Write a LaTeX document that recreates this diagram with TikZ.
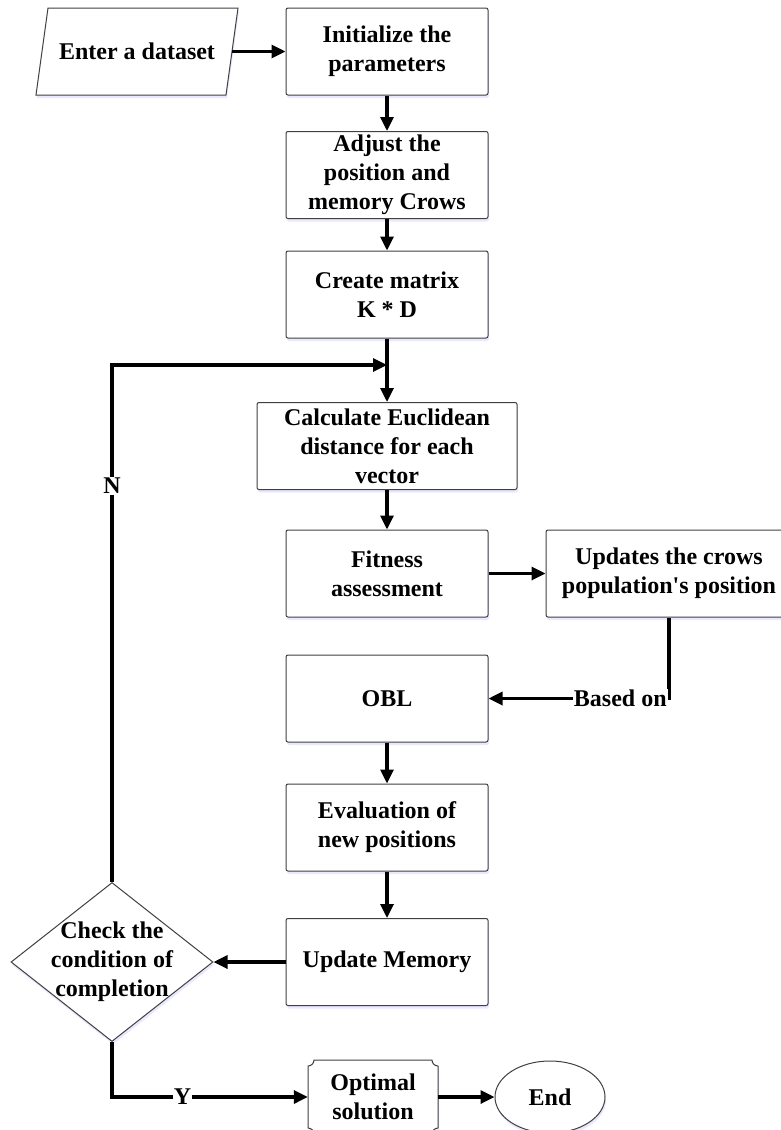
\documentclass[tikz,border=0pt]{standalone}
\usepackage{fontspec}
\setmainfont{Liberation Serif}
\usetikzlibrary{arrows.meta,shapes.geometric,shadows}

\tikzset{
  sombra/.style={drop shadow={shadow xshift=1pt,shadow yshift=-3pt,fill=blue!15,opacity=.6}},
  proc/.style={draw=gray!50!black, line width=1pt, rounded corners=2pt, fill=white,
    minimum width=202pt, minimum height=87pt, inner sep=2pt, align=center, sombra},
  decision/.style={diamond, draw=gray!50!black, line width=1pt, fill=white,
    minimum width=202pt, minimum height=159pt, inner sep=0pt, sombra},
  borde/.style={draw=gray!50!black, line width=1pt, fill=white, sombra},
  flecha/.style={line width=3.2pt, -{Triangle[length=14pt,width=13pt]}},
  etiq/.style={fill=white, inner sep=1pt},
}

\begin{document}
\begin{tikzpicture}[x=1pt, y=-1pt, font=\fontsize{24}{29}\selectfont\bfseries]
    \useasboundingbox (0,0) rectangle (781,1130);

    % Entrada de datos
    \draw[borde] (48,8) -- (238,8) -- (226,95) -- (36,95) -- cycle;
    \node[minimum width=190pt, minimum height=87pt] (inp) at (137,51.5) {Enter a dataset};

    % Cajas del proceso
    \node[proc] (init) at (387,51.5) {Initialize the\\parameters};
    \node[proc] (adj) at (387,175) {Adjust the\\position and\\memory Crows};
    \node[proc] (crear) at (387,294.5) {Create matrix\\K * D};
    \node[proc, minimum width=260pt] (calc) at (387,446) {Calculate Euclidean\\distance for each\\vector};
    \node[proc] (fit) at (387,573.5) {Fitness\\assessment};
    \node[proc, minimum width=246pt] (upd) at (669,573.5) {Updates the crows\\population\textquotesingle s position};
    \node[proc] (obl) at (387,698.5) {OBL};
    \node[proc] (eval) at (387,827.5) {Evaluation of\\new positions};
    \node[proc] (mem) at (387,962) {Update Memory};

    % Condicion de parada
    \node[decision] (chk) at (112,962) {};
    \node[align=center] (chktxt) at (chk.center) {Check the\\condition of\\completion};

    % Solucion y fin
    \draw[borde] (308,1066) .. controls (311.3,1066) and (314,1063.3) .. (314,1060)
        -- (432,1060) .. controls (432,1063.3) and (434.7,1066) .. (438,1066)
        -- (438,1128) .. controls (434.7,1128) and (432,1130.7) .. (432,1134)
        -- (314,1134) .. controls (314,1130.7) and (311.3,1128) .. (308,1128) -- cycle;
    \node[align=center, minimum width=130pt, minimum height=74pt] (opt) at (373,1097) {Optimal\\solution};
    \node[ellipse, borde, minimum width=110pt, minimum height=72pt] (fin) at (550,1097) {End};

    % Flechas
    \draw[flecha] (inp.east) -- (init.west);
    \draw[flecha] (init.south) -- (adj.north);
    \draw[flecha] (adj.south) -- (crear.north);
    \draw[flecha] (crear.south) -- (calc.north);
    \draw[flecha] (calc.south) -- (fit.north);
    \draw[flecha] (fit.east) -- (upd.west);
    \draw[flecha] (upd.south) |- node[etiq, pos=.635] {Based on} (obl.east);
    \draw[flecha] (obl.south) -- (eval.north);
    \draw[flecha] (eval.south) -- (mem.north);
    \draw[flecha] (mem.west) -- (chk.east);

    % Lazo de vuelta
    \coordinate (cruce) at (387,365);
    \draw[flecha] (chk.north) |- node[etiq, pos=.383] {N} (cruce);
    \draw[flecha] (chk.south) |- node[etiq, pos=.68] {Y} (opt.west);
    \draw[flecha] (opt.east) -- (fin.west);
\end{tikzpicture}
\end{document}
